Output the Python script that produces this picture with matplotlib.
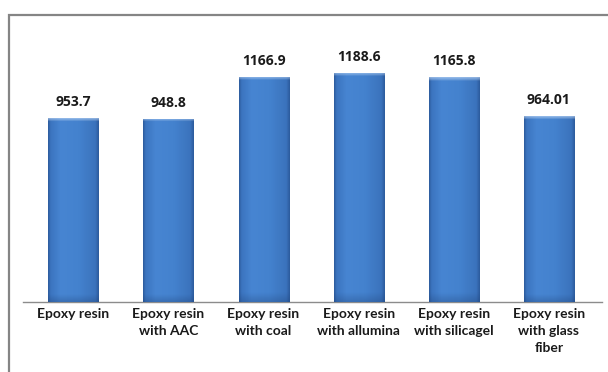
import numpy as np
import matplotlib
matplotlib.use("Agg")
import matplotlib.pyplot as plt
from matplotlib.colors import LinearSegmentedColormap
from matplotlib.patches import Rectangle

categories = ["Epoxy resin", "Epoxy resin\nwith AAC", "Epoxy resin\nwith coal",
              "Epoxy resin\nwith allumina", "Epoxy resin\nwith silicagel",
              "Epoxy resin\nwith glass\nfiber"]
values = [953.7, 948.8, 1166.9, 1188.6, 1165.8, 964.01]
value_labels = ["953.7", "948.8", "1166.9", "1188.6", "1165.8", "964.01"]

W, H = 608, 372
fig = plt.figure(figsize=(W / 100, H / 100), dpi=100)

# outer frame (top and left visible, others clipped)
frame = Rectangle((8.5 / W, -0.1), 1.2, 1 - 14.5 / H + 0.1, transform=fig.transFigure,
                  fill=False, edgecolor="#858585", linewidth=1.6, clip_on=False)
fig.patches.append(frame)

ax_left, ax_right = 23 / W, 602 / W
base_y = 302
ymax = 1400
scale = 0.1929
top_px = base_y - ymax * scale
ax = fig.add_axes([ax_left, 1 - base_y / H, ax_right - ax_left, (base_y - top_px) / H])
ax.set_xlim(-0.53, 5.56)
ax.set_ylim(0, ymax)
for s in ["top", "left", "right"]:
    ax.spines[s].set_visible(False)
ax.spines["bottom"].set_color("#8c8c8c")
ax.spines["bottom"].set_linewidth(1.0)
ax.set_yticks([])

x = np.arange(len(categories))
bw = 0.526
bars = ax.bar(x, values, width=bw, color="#4080cc", edgecolor="none", zorder=2)

# horizontal gradient for each bar (cylinder-like shading)
cmap = LinearSegmentedColormap.from_list(
    "barshade",
    [(0.0, "#2c5a9b"), (0.05, "#3b74bf"), (0.25, "#4785d2"), (0.6, "#4482ce"),
     (0.93, "#3b73bd"), (1.0, "#2c5a9b")])
grad = np.linspace(0, 1, 256).reshape(1, -1)
vgrad_cmap = LinearSegmentedColormap.from_list(
    "vshade", [(0.0, (0.12, 0.25, 0.45, 0.3)), (0.04, (0.12, 0.25, 0.45, 0.0)),
               (0.985, (1, 1, 1, 0.0)), (0.992, (0.75, 0.85, 0.97, 0.35)),
               (1.0, (0.8, 0.88, 0.98, 0.6))])
vgrad = np.linspace(0, 1, 512).reshape(-1, 1)
for b, v in zip(bars, values):
    x0 = b.get_x()
    x1 = x0 + b.get_width()
    im = ax.imshow(grad, extent=[x0, x1, 0, v], aspect="auto", cmap=cmap,
                   zorder=3, interpolation="bilinear")
    im.set_clip_path(b)
    im2 = ax.imshow(vgrad, extent=[x0, x1, 0, v], aspect="auto", cmap=vgrad_cmap,
                    origin="lower", zorder=4, interpolation="bilinear")
    im2.set_clip_path(b)

for xi, v, lab in zip(x, values, value_labels):
    ax.annotate(lab, (xi, v), xytext=(0, 6.5), textcoords="offset points",
                ha="center", va="bottom", fontsize=10, fontweight="bold",
                family="Open Sans", color="#1a1a1a")

ax.set_xticks(x)
ax.set_xticklabels(categories, fontsize=10, fontweight="bold", family="Lato",
                   color="#1a1a1a", linespacing=1.5)
ax.tick_params(axis="x", length=0, pad=4)

fig.savefig("out.png", dpi=100)
